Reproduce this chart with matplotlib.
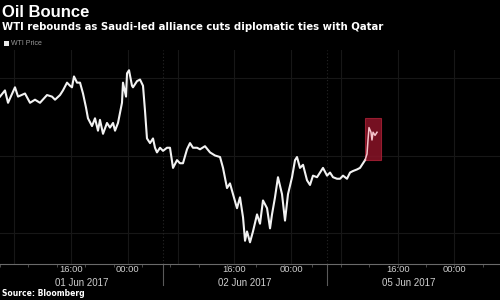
import matplotlib
matplotlib.use("Agg")
import numpy as np
import matplotlib.pyplot as plt
import matplotlib.transforms as mtransforms

# trading-time hours since the 01 Jun session opened (sessions are 23h long)
hours = [0.0, 0.7, 1.13, 2.11, 2.54, 3.52, 4.23, 4.93, 5.63, 6.62, 7.32, 7.75,
         8.45, 8.87, 9.44, 9.86, 10.14, 10.42, 10.85, 11.27, 11.69, 12.11, 12.39,
         12.96, 13.38, 13.80, 14.08, 14.51, 15.07, 15.49, 15.92, 16.20, 16.62,
         17.18, 17.32, 17.75, 17.89, 18.17, 18.59, 18.73, 19.30, 19.72, 20.14,
         20.42, 20.70, 21.13, 21.55, 21.83, 22.11, 22.54, 22.96, 23.52, 23.94,
         24.37, 24.93, 25.35, 25.77, 26.34, 26.76, 27.18, 27.75, 28.17, 28.87,
         29.58, 30.28, 30.99, 31.41, 31.97, 32.39, 32.82, 33.38, 33.80, 34.23,
         34.51, 34.79, 35.21, 35.63, 36.20, 36.62, 37.04, 37.61, 38.03, 38.31,
         38.73, 39.15, 39.72, 40.14, 40.56, 41.13, 41.55, 41.83, 42.25, 42.68,
         43.24, 43.66, 44.08, 44.65, 45.07, 45.49, 46.06, 46.48, 46.90, 47.46,
         47.89, 48.31, 48.87, 49.30, 49.72, 50.28, 50.70, 51.13, 51.41, 51.69,
         51.83, 51.97, 52.25, 52.39, 52.54, 52.82, 53.10]
price = [48.38, 48.42, 48.34, 48.44, 48.38, 48.40, 48.34, 48.36, 48.34, 48.39,
         48.38, 48.36, 48.39, 48.42, 48.47, 48.45, 48.44, 48.51, 48.47, 48.47,
         48.40, 48.31, 48.24, 48.19, 48.24, 48.16, 48.23, 48.14, 48.21, 48.18,
         48.21, 48.16, 48.21, 48.34, 48.47, 48.38, 48.53, 48.55, 48.45, 48.44,
         48.48, 48.49, 48.45, 48.29, 48.11, 48.08, 48.11, 48.05, 48.02, 48.05,
         48.03, 48.05, 48.05, 47.92, 47.97, 47.95, 47.95, 48.04, 48.08, 48.05,
         48.05, 48.04, 48.06, 48.02, 48.00, 47.99, 47.92, 47.79, 47.82, 47.75,
         47.66, 47.73, 47.60, 47.45, 47.51, 47.44, 47.51, 47.62, 47.56,
         47.71, 47.66, 47.53, 47.62, 47.73, 47.86, 47.75, 47.58, 47.75, 47.86,
         47.97, 47.99, 47.92, 47.94, 47.84, 47.81, 47.87, 47.86, 47.89, 47.92,
         47.87, 47.89, 47.86, 47.85, 47.85, 47.87, 47.85, 47.89, 47.90, 47.91,
         47.92, 47.95, 47.97, 48.01, 48.10, 48.18, 48.15, 48.10, 48.15, 48.13,
         48.15]
highlight_from = 51.41  # news hits: Saudi-led alliance cuts ties with Qatar

session_len = 23
session_dates = ["01 Jun 2017", "02 Jun 2017", "05 Jun 2017"]
tick_hours = [10, 18]          # 16:00 and 00:00 inside each session
tick_labels = ["16:00", "00:00"]
x_end = 70.42
y_lim = (47.30, 48.68)
y_grid = [47.5, 48.0, 48.5]

hours = np.array(hours)
price = np.array(price)

fig = plt.figure(figsize=(5, 3), dpi=100, facecolor="black")
ax = fig.add_axes([0, 0.12, 1, 0.713], facecolor="black")

# faint grid
grid_kw = dict(color="#171717", lw=0.8, zorder=0)
for y in y_grid:
    ax.axhline(y, **grid_kw)
for s in range(len(session_dates)):
    for h in [2] + tick_hours:
        ax.axvline(s * session_len + h, **grid_kw)
for s in range(1, len(session_dates)):
    ax.axvline(s * session_len, color="#262626", lw=0.8, ls=(0, (1, 2)), zorder=0)

# price line
main = hours <= highlight_from
ax.plot(hours[main], price[main], color="#f2f2f2", lw=1.5, zorder=3)
hl = hours >= highlight_from
ax.plot(hours[hl], price[hl], color="#f6c4cc", lw=1.1, zorder=4)
pad_x, pad_top = 0.05, 0.06
ax.axvspan(hours[hl].min() + pad_x, hours[hl].max() + 0.55,
           ymin=(price[hl].min() - y_lim[0]) / (y_lim[1] - y_lim[0]),
           ymax=(price[hl].max() + pad_top - y_lim[0]) / (y_lim[1] - y_lim[0]),
           facecolor="#8a1428", edgecolor="#a82035", alpha=0.85, lw=0.8, zorder=2)

ax.set_xlim(0, x_end)
ax.set_ylim(*y_lim)
for side in ["top", "left", "right"]:
    ax.spines[side].set_visible(False)
ax.spines["bottom"].set_color("#6a6a6a")
ax.spines["bottom"].set_linewidth(0.8)
ax.set_yticks([])
ax.set_xticks(np.arange(0, x_end, 4), minor=True)
ax.tick_params(axis="x", which="minor", length=2, color="#555555", direction="out")
ax.set_xticks([])

# time labels and session dates under the axis
trans = mtransforms.blended_transform_factory(ax.transData, fig.transFigure)
narrow = ["Liberation Sans Narrow", "Liberation Sans"]
for s, date in enumerate(session_dates):
    base = s * session_len
    for h, lab in zip(tick_hours, tick_labels):
        ax.text(base + h, 0.101, lab, transform=trans, ha="center", va="center",
                color="#cfcfcf", fontsize=6.8, family=narrow)
    ax.text(base + session_len / 2, 0.058, date, transform=trans, ha="center",
            va="center", fontsize=7, color="#cfcfcf", family=narrow)
    if s > 0:
        ax.plot([base, base], [0.12, 0.05], transform=trans, color="#5a5a5a",
                lw=0.8, clip_on=False)

# titles
fig.text(0.004, 0.958, "Oil Bounce", color="white", fontsize=12, fontweight="bold",
         family="Liberation Sans", va="center")
fig.text(0.004, 0.91, "WTI rebounds as Saudi-led alliance cuts diplomatic ties with Qatar",
         color="white", fontsize=7.3, fontweight="bold", family="DejaVu Sans", va="center")
fig.patches.append(plt.Rectangle((0.008, 0.847), 0.01, 0.016, transform=fig.transFigure,
                                 facecolor="#e8e8e8", edgecolor="none"))
fig.text(0.022, 0.855, "WTI Price", color="#9a9a9a", fontsize=5, family="Liberation Sans",
         va="center")
fig.text(0.004, 0.022, "Source: Bloomberg", color="white", fontsize=5.5, fontweight="bold",
         family="DejaVu Sans", va="center")

fig.savefig("out.png", dpi=100, facecolor="black")
